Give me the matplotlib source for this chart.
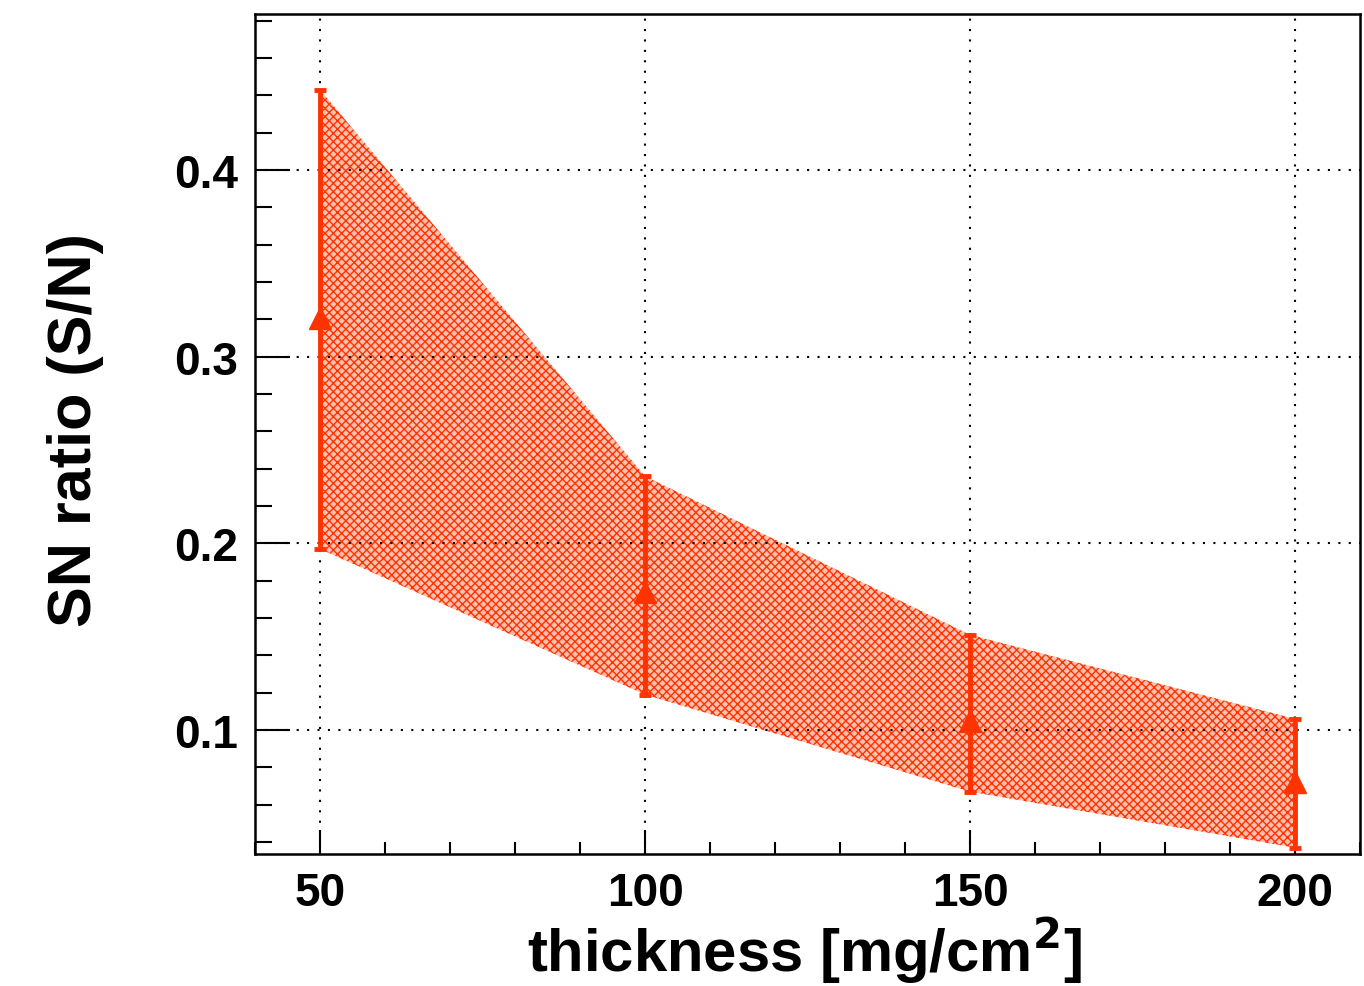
import matplotlib
matplotlib.use('Agg')
import matplotlib.pyplot as plt
import numpy as np
from matplotlib.ticker import MultipleLocator

# data
thickness = [50, 100, 150, 200]
sn_ratio = [0.321, 0.174, 0.105, 0.072]
sn_upper = [0.443, 0.236, 0.151, 0.106]
sn_lower = [0.197, 0.119, 0.067, 0.037]

col = '#ff3300'
plt.rcParams['font.family'] = ['Liberation Sans', 'DejaVu Sans']
plt.rcParams['font.weight'] = 'bold'
plt.rcParams['hatch.linewidth'] = 1.0
plt.rcParams['hatch.color'] = col

fig = plt.figure(figsize=(13.64, 9.87), dpi=100)
ax = fig.add_axes([255/1364, 132/987, 1105/1364, 840/987])

x = np.array(thickness)
y = np.array(sn_ratio)
up = np.array(sn_upper)
lo = np.array(sn_lower)

# error band, dotted fill like the ROOT pattern
ax.fill_between(x, lo, up, facecolor='#ffc0b0', edgecolor='none',
                hatch='xxxx', lw=0, zorder=2)

ax.errorbar(x, y, yerr=[y - lo, up - y], fmt='^', color=col, ms=16,
            elinewidth=3.5, capsize=4, capthick=3.5, zorder=4)

ax.set_xlim(40, 210)
ax.set_ylim(0.0336, 0.4836)
ax.xaxis.set_minor_locator(MultipleLocator(10))
ax.yaxis.set_minor_locator(MultipleLocator(0.02))
ax.set_xticks([50, 100, 150, 200])
ax.set_xticklabels(['50', '100', '150', '200'])
ax.set_yticks([0.1, 0.2, 0.3, 0.4])
ax.set_yticklabels(['0.1', '0.2', '0.3', '0.4'])

ax.grid(True, which='major', color='black', lw=1.5, ls=(0, (1, 4)), zorder=1)
ax.set_axisbelow(False)

ax.tick_params(axis='both', which='both', direction='in', width=1.5,
               top=False, right=False, labelsize=33)
ax.tick_params(axis='y', which='major', length=25, pad=12)
ax.tick_params(axis='y', which='minor', length=12.5)
ax.tick_params(axis='x', which='major', length=17, pad=12)
ax.tick_params(axis='x', which='minor', length=9)
for lab in ax.get_xticklabels() + ax.get_yticklabels():
    lab.set_fontweight('bold')
for s in ax.spines.values():
    s.set_linewidth(1.8)

ax.set_xlabel(r'thickness [mg/cm$^{\mathbf{2}}$]', fontsize=43, fontweight='bold')
ax.xaxis.set_label_coords(0.497, -0.072)
ax.set_ylabel('SN ratio (S/N)', fontsize=44, fontweight='bold')
ax.yaxis.set_label_coords(-0.137, 0.506)

fig.savefig('out.png', dpi=100)
